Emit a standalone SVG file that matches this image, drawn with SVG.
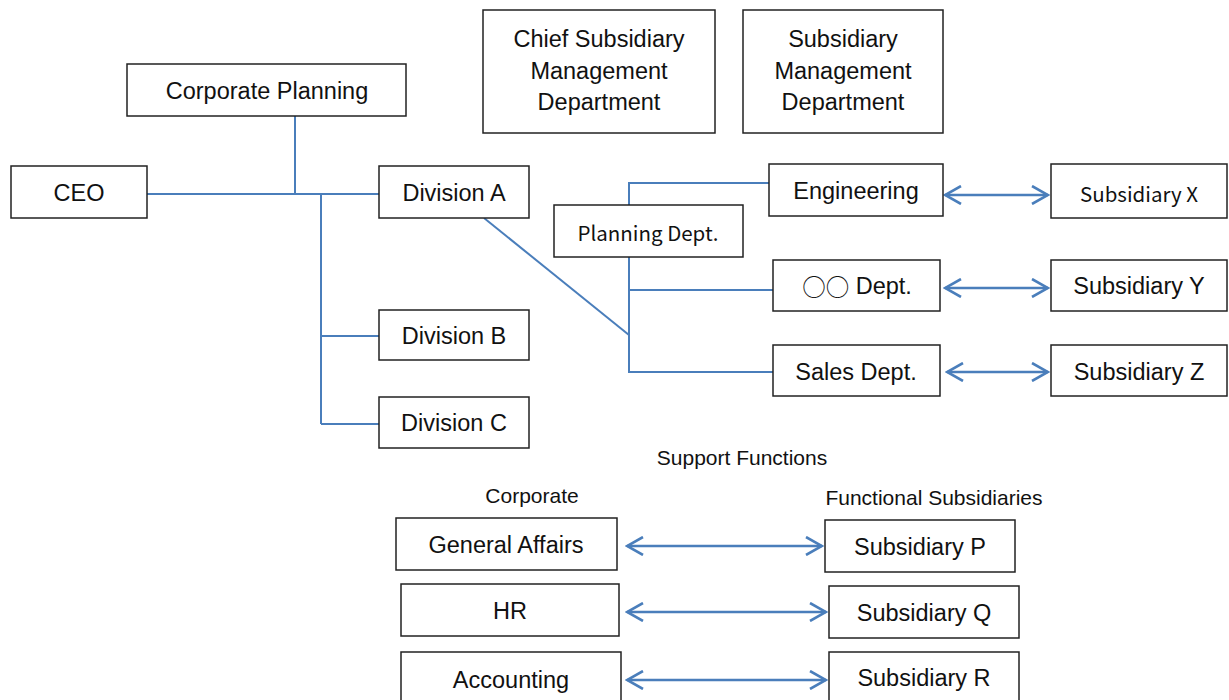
<svg xmlns="http://www.w3.org/2000/svg" width="1229" height="700" viewBox="0 0 1229 700">
  <defs>
    <marker id="chev" viewBox="0 0 20 20" refX="18" refY="10" markerWidth="20" markerHeight="20" markerUnits="userSpaceOnUse" orient="auto-start-reverse">
      <path d="M2,1 L18,10 L2,19" fill="none" stroke="#4a7ebb" stroke-width="2.6"/>
    </marker>
    <style>
      .box { fill: #ffffff; stroke: #222222; stroke-width: 1.5; }
      .lbl { font-family: "Liberation Sans", Arial, sans-serif; font-size: 23.5px; fill: #111111; text-anchor: middle; dominant-baseline: central; }
      .alt { font-family: "Noto Sans CJK JP", "Liberation Sans", sans-serif; font-size: 20.5px; fill: #111111; text-anchor: middle; dominant-baseline: central; }
      .cap { font-family: "Liberation Sans", Arial, sans-serif; font-size: 21px; fill: #111111; text-anchor: middle; dominant-baseline: central; }
      .cjk { font-family: "Noto Sans CJK JP", sans-serif; }
      .wire { fill: none; stroke: #4a7ebb; stroke-width: 2; }
      .link { fill: none; stroke: #4a7ebb; stroke-width: 2.6; marker-start: url(#chev); marker-end: url(#chev); }
    </style>
  </defs>

  <!-- connectors -->
  <g id="connectors">
    <path class="wire" d="M295,116 V194 M147,194 H379 M321,194 V424 M321,336 H379 M321,424 H379"/>
    <path class="wire" d="M484,218 L629,335"/>
    <path class="wire" d="M629,205 V183 H769 M629,257 V372 H773 M629,290 H773"/>
    <path class="link" d="M945,195 H1048"/>
    <path class="link" d="M945,288 H1048"/>
    <path class="link" d="M947,372 H1048"/>
    <path class="link" d="M627,546 H822"/>
    <path class="link" d="M627,612 H826"/>
    <path class="link" d="M627,680 H826"/>
  </g>

  <!-- headquarters -->
  <g id="chief-sub-mgmt">
    <rect class="box" x="483" y="10" width="232" height="123"/>
    <text class="lbl"><tspan x="599" y="39">Chief Subsidiary</tspan><tspan x="599" y="71">Management</tspan><tspan x="599" y="102">Department</tspan></text>
  </g>
  <g id="sub-mgmt">
    <rect class="box" x="743" y="10" width="200" height="123"/>
    <text class="lbl"><tspan x="843" y="39">Subsidiary</tspan><tspan x="843" y="71">Management</tspan><tspan x="843" y="102">Department</tspan></text>
  </g>
  <g id="corp-planning">
    <rect class="box" x="127" y="64" width="279" height="52"/>
    <text class="lbl" x="267" y="91">Corporate Planning</text>
  </g>
  <g id="ceo">
    <rect class="box" x="11" y="166" width="136" height="52"/>
    <text class="lbl" x="79" y="193">CEO</text>
  </g>
  <g id="div-a">
    <rect class="box" x="379" y="166" width="150" height="52"/>
    <text class="lbl" x="454" y="193">Division A</text>
  </g>
  <g id="div-b">
    <rect class="box" x="379" y="310" width="150" height="50"/>
    <text class="lbl" x="454" y="336">Division B</text>
  </g>
  <g id="div-c">
    <rect class="box" x="379" y="397" width="150" height="51"/>
    <text class="lbl" x="454" y="423">Division C</text>
  </g>

  <!-- Division A departments -->
  <g id="planning-dept">
    <rect class="box" x="554" y="205" width="189" height="52"/>
    <text class="alt" x="648" y="232">Planning Dept.</text>
  </g>
  <g id="engineering">
    <rect class="box" x="769" y="164" width="174" height="52"/>
    <text class="lbl" x="856" y="191">Engineering</text>
  </g>
  <g id="oo-dept">
    <rect class="box" x="773" y="260" width="167" height="51"/>
    <text class="lbl" x="857" y="286"><tspan class="cjk">○○</tspan> Dept.</text>
  </g>
  <g id="sales-dept">
    <rect class="box" x="773" y="345" width="167" height="51"/>
    <text class="lbl" x="856" y="372">Sales Dept.</text>
  </g>

  <!-- subsidiaries -->
  <g id="sub-x">
    <rect class="box" x="1051" y="164" width="176" height="54"/>
    <text class="alt" x="1139" y="193">Subsidiary X</text>
  </g>
  <g id="sub-y">
    <rect class="box" x="1051" y="260" width="176" height="51"/>
    <text class="lbl" x="1139" y="286">Subsidiary Y</text>
  </g>
  <g id="sub-z">
    <rect class="box" x="1051" y="345" width="176" height="51"/>
    <text class="lbl" x="1139" y="372">Subsidiary Z</text>
  </g>

  <!-- support functions -->
  <g id="captions">
    <text class="cap" x="742" y="457">Support Functions</text>
    <text class="cap" x="532" y="495">Corporate</text>
    <text class="cap" x="934" y="497">Functional Subsidiaries</text>
  </g>
  <g id="general-affairs">
    <rect class="box" x="396" y="518" width="221" height="52"/>
    <text class="lbl" x="506" y="545">General Affairs</text>
  </g>
  <g id="hr">
    <rect class="box" x="401" y="584" width="218" height="52"/>
    <text class="lbl" x="510" y="611">HR</text>
  </g>
  <g id="accounting">
    <rect class="box" x="401" y="652" width="220" height="52"/>
    <text class="lbl" x="511" y="680">Accounting</text>
  </g>
  <g id="sub-p">
    <rect class="box" x="825" y="520" width="190" height="52"/>
    <text class="lbl" x="920" y="547">Subsidiary P</text>
  </g>
  <g id="sub-q">
    <rect class="box" x="829" y="586" width="190" height="52"/>
    <text class="lbl" x="924" y="613">Subsidiary Q</text>
  </g>
  <g id="sub-r">
    <rect class="box" x="829" y="652" width="190" height="52"/>
    <text class="lbl" x="924" y="678">Subsidiary R</text>
  </g>
</svg>
